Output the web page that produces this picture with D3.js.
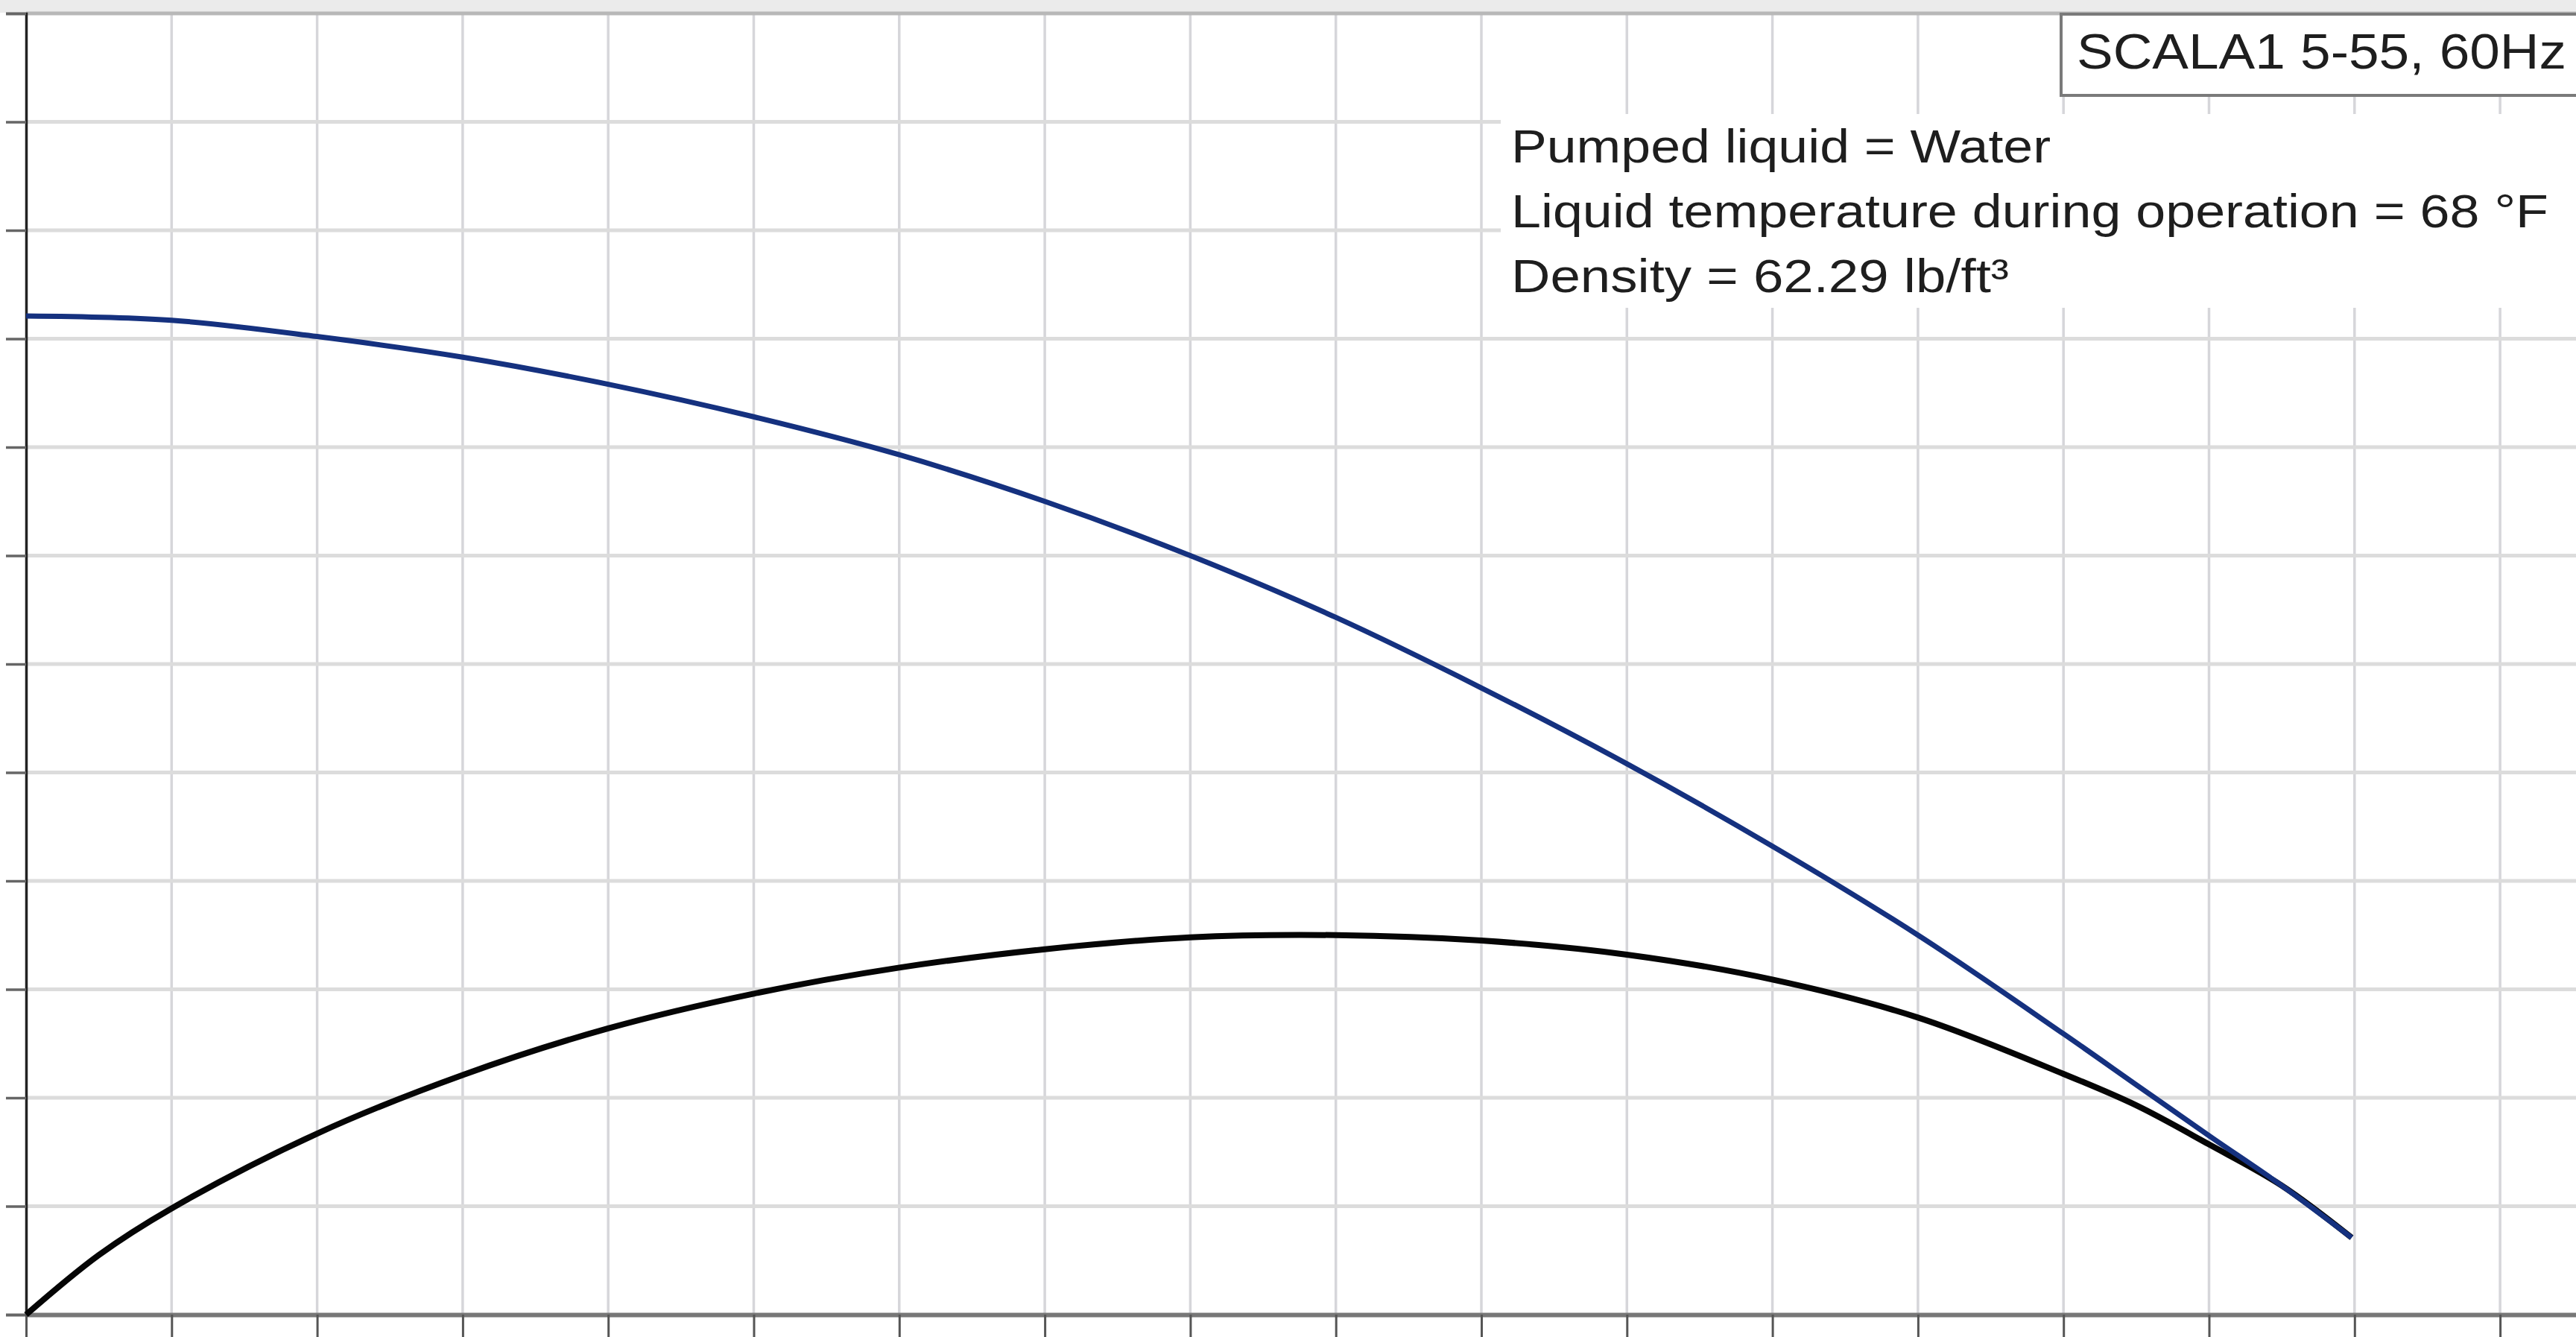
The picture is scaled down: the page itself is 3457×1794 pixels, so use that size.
<!DOCTYPE html>
<html>
<head>
<meta charset="utf-8">
<script src="https://cdn.jsdelivr.net/npm/d3@7"></script>
<style>
  html, body { margin: 0; padding: 0; background: #ffffff; }
  svg { display: block; }
</style>
</head>
<body>
<div id="chart"></div>
<script>
// Pump curve values in grid units
const qhFlow = [0, 1, 2, 3, 4, 5, 6, 7, 8, 9, 10, 11, 12, 13, 14, 14.5, 15, 15.5, 15.98];
const qhHead = [9.21, 9.17, 9.02, 8.83, 8.58, 8.28, 7.93, 7.50, 7.00, 6.43, 5.78, 5.08, 4.32, 3.50, 2.59, 2.12, 1.65, 1.19, 0.71];

const etaFlow = [0, 0.5, 1, 2, 3, 4, 5, 6, 7, 8, 9, 10, 11, 12, 13, 14, 14.5, 15, 15.5, 15.98];
const etaValue = [0, 0.55, 0.98, 1.67, 2.21, 2.64, 2.96, 3.20, 3.37, 3.48, 3.50, 3.45, 3.32, 3.09, 2.74, 2.22, 1.93, 1.57, 1.19, 0.71];

const xTicks = d3.range(0, 18);
const yTicks = d3.range(0, 13);

const titleText = "SCALA1 5-55, 60Hz";
const infoLines = [
    "Pumped liquid = Water",
    "Liquid temperature during operation = 68 °F",
    "Density = 62.29 lb/ft³"
];
const infoWidths = [724, 1392, 668];

const width = 3457;
const height = 1794;

const svg = d3.select("#chart")
    .append("svg")
    .attr("width", width)
    .attr("height", height);

// scales: one grid step = 195.3 px across, 145.5 px up
const x = d3.scaleLinear().domain([0, 18]).range([35, 35 + 18 * 195.3]);
const y = d3.scaleLinear().domain([0, 12]).range([1764, 18]);

// grey strip along the top
svg.append("rect")
    .attr("x", 0).attr("y", 0)
    .attr("width", width).attr("height", 17)
    .attr("fill", "#ebebeb");

// vertical grid
svg.append("g")
    .selectAll("line")
    .data(xTicks.filter(d => d > 0))
    .enter()
    .append("line")
    .attr("x1", d => x(d)).attr("x2", d => x(d))
    .attr("y1", y(12)).attr("y2", y(0))
    .attr("stroke", "#d6d6da")
    .attr("stroke-width", 3.5);

// horizontal grid
svg.append("g")
    .selectAll("line")
    .data(yTicks.filter(d => d > 0))
    .enter()
    .append("line")
    .attr("x1", x(0)).attr("x2", width)
    .attr("y1", d => y(d)).attr("y2", d => y(d))
    .attr("stroke", d => d === 12 ? "#b8b8b8" : "#dcdcdc")
    .attr("stroke-width", 5);

// left axis, ticks only (labels are cut off in the source)
svg.append("g")
    .attr("transform", "translate(" + x(0) + ",0)")
    .call(d3.axisLeft(y).tickValues(yTicks).tickSize(27).tickFormat(""))
    .call(g => g.select(".domain").attr("stroke", "#222").attr("stroke-width", 3.5))
    .call(g => g.selectAll(".tick line").attr("stroke", "#666").attr("stroke-width", 3.5));

// bottom axis
svg.append("g")
    .attr("transform", "translate(0," + y(0) + ")")
    .call(d3.axisBottom(x).tickValues(xTicks).tickSize(32).tickSizeOuter(0).tickFormat(""))
    .call(g => g.select(".domain").attr("stroke", "#777").attr("stroke-width", 6))
    .call(g => g.selectAll(".tick line").attr("stroke", "#555").attr("stroke-width", 3));

// white panel behind the liquid info
svg.append("rect")
    .attr("x", 2014).attr("y", 153)
    .attr("width", width - 2014).attr("height", 260)
    .attr("fill", "#ffffff");

const line = d3.line()
    .x(d => x(d[0]))
    .y(d => y(d[1]))
    .curve(d3.curveCatmullRom.alpha(0.5));

// efficiency curve (black)
svg.append("path")
    .datum(etaFlow.map((q, i) => [q, etaValue[i]]))
    .attr("d", line)
    .attr("fill", "none")
    .attr("stroke", "#050505")
    .attr("stroke-width", 8)
    .attr("stroke-linecap", "butt");

// QH curve (blue)
svg.append("path")
    .datum(qhFlow.map((q, i) => [q, qhHead[i]]))
    .attr("d", line)
    .attr("fill", "none")
    .attr("stroke", "#15317f")
    .attr("stroke-width", 7)
    .attr("stroke-linecap", "butt");

// title box
svg.append("rect")
    .attr("x", 2766).attr("y", 19)
    .attr("width", width - 2766 + 10).attr("height", 109)
    .attr("fill", "#ffffff")
    .attr("stroke", "#7a7a7a")
    .attr("stroke-width", 4);

svg.append("text")
    .attr("x", 2787)
    .attr("y", 92)
    .attr("textLength", 657)
    .attr("lengthAdjust", "spacingAndGlyphs")
    .style("font-family", "'Liberation Sans', Arial, sans-serif")
    .style("font-size", "66px")
    .attr("fill", "#1e1e1e")
    .text(titleText);

// liquid info lines
svg.append("g")
    .selectAll("text")
    .data(infoLines)
    .enter()
    .append("text")
    .attr("x", 2028)
    .attr("y", (d, i) => 218 + i * 87)
    .attr("textLength", (d, i) => infoWidths[i])
    .attr("lengthAdjust", "spacingAndGlyphs")
    .style("font-family", "'Liberation Sans', Arial, sans-serif")
    .style("font-size", "63px")
    .attr("fill", "#1e1e1e")
    .text(d => d);
</script>
</body>
</html>
